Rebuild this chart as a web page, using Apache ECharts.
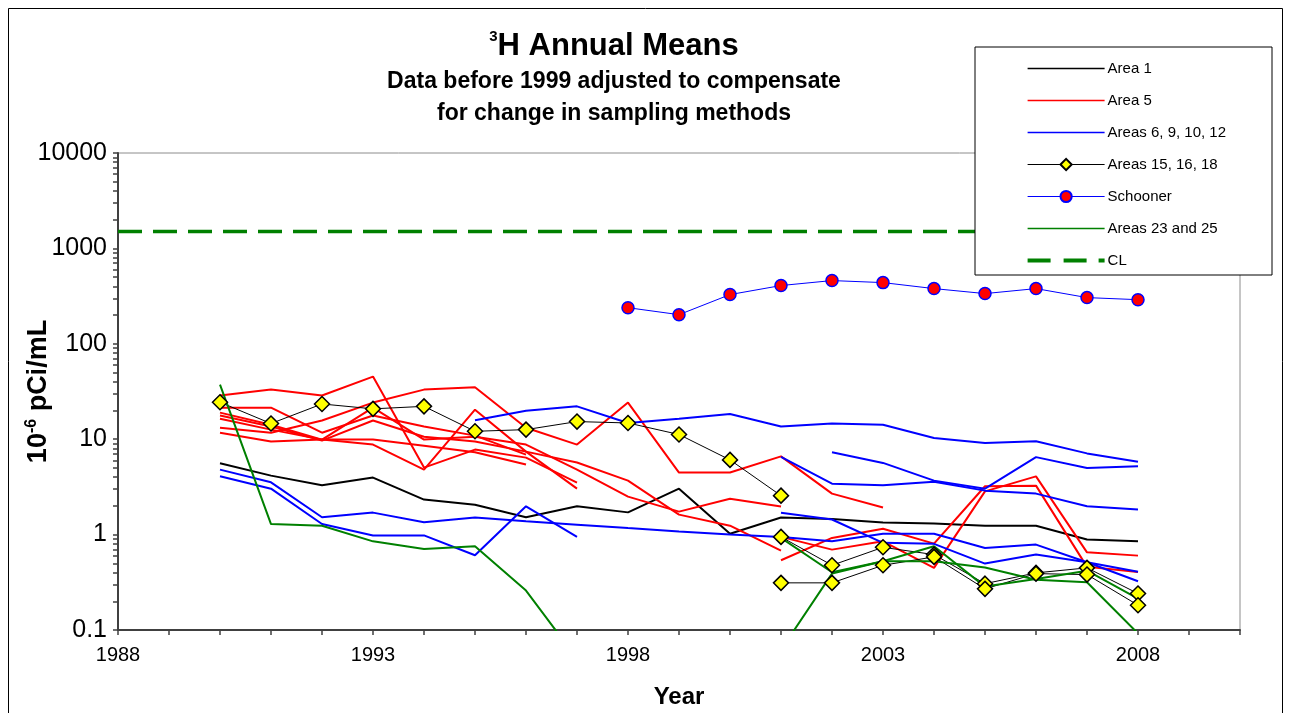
<!DOCTYPE html>
<html><head><meta charset="utf-8">
<script src="https://cdn.jsdelivr.net/npm/echarts@6/dist/echarts.min.js"></script>
<style>html,body{margin:0;padding:0;background:#fff}#c{width:1291px;height:713px}</style>
</head><body><div id="c"></div><script>
const years = [1990,1991,1992,1993,1994,1995,1996,1997,1998,1999,2000,2001,2002,2003,2004,2005,2006,2007,2008];
const _ = null;
// Area 1
const area1 = [5.59,4.15,3.29,3.96,2.33,2.06,1.52,1.98,1.71,3.03,1.02,1.51,1.46,1.34,1.31,1.24,1.24,0.89,0.85];
// Area 5 stations
const area5a = [28.7,33.1,28.7,45.3,5.04,7.78,6.41,3.51,_,_,_,_,_,_,_,_,_,_,_];
const area5b = [19.0,14.2,9.9,8.78,4.8,20.4,7.41,3.03,_,_,_,_,_,_,_,_,_,_,_];
const area5c = [13.2,11.7,15.7,24.2,33.1,35.1,13.2,8.78,24.2,4.47,4.47,6.6,2.69,1.92,_,_,_,_,_];
const area5d = [17.7,13.6,9.67,15.7,10.6,9.44,7.41,5.69,3.68,1.62,1.24,0.68,_,_,_,_,_,_,_];
const area5e = [16.4,12.6,9.9,21.4,9.9,10.6,8.78,4.8,2.5,1.74,2.38,1.97,_,_,_,_,_,_,_];
const area5f = [21.4,21.4,11.7,17.7,13.6,10.9,6.9,_,_,_,_,_,_,_,_,_,_,_,_];
const area5g = [11.7,9.44,9.9,9.9,8.56,7.3,5.42,_,_,_,_,_,_,_,_,_,_,_,_];
const area5h = [_,_,_,_,_,_,_,_,_,_,_,0.538,0.923,1.15,0.805,3.21,3.26,0.459,0.406];
const area5i = [_,_,_,_,_,_,_,_,_,_,_,0.946,0.696,0.851,0.448,2.84,4.08,0.652,0.602];
// Areas 6, 9, 10, 12
const area6a = [_,_,_,_,_,15.8,19.9,22.1,14.8,16.4,18.4,13.6,14.6,14.2,10.3,9.1,9.5,7.1,5.8];
const area6b = [_,_,_,_,_,_,_,_,_,_,_,_,7.29,5.64,3.68,3.03,6.49,5.0,5.2];
const area6c = [_,_,_,_,_,_,_,_,_,_,_,6.52,3.42,3.29,3.59,2.89,2.69,1.98,1.83];
const area6d = [4.80,3.53,1.52,1.70,1.35,1.51,1.38,1.27,1.17,1.08,1.0,0.946,0.85,1.02,1.02,0.725,0.786,0.513,0.407];
const area6e = [4.08,3.03,1.29,0.98,0.98,0.607,1.98,0.946,_,_,_,_,_,_,_,_,_,_,_];
const area6f = [_,_,_,_,_,_,_,_,_,_,_,1.69,1.44,0.82,0.80,0.497,0.617,0.513,0.324];
// Areas 15, 16, 18
const area15a = [24.4,14.6,23.4,20.8,22.1,12.1,12.6,15.3,14.8,11.2,6.07,2.56,_,_,_,_,_,_,_];
const area15b = [_,_,_,_,_,_,_,_,_,_,_,0.946,0.477,0.736,0.617,0.306,0.397,0.448,0.241];
const area15c = [_,_,_,_,_,_,_,_,_,_,_,0.312,0.312,0.477,0.584,0.270,0.390,0.381,0.182];
// Schooner
const schooner = [_,_,_,_,_,_,_,_,239,202,328,408,460,438,379,336,379,305,290];
// Areas 23 and 25
const area23a = [37.3,1.29,1.24,0.85,0.708,0.754,0.259,0.05,_,_,_,_,_,_,_,_,_,_,_];
const area23b = [_,_,_,_,_,_,_,_,_,_,_,0.062,0.390,0.525,0.754,0.285,0.343,0.419,0.213];
const area23c = [_,_,_,_,_,_,_,_,_,_,_,0.923,0.403,0.525,0.525,0.451,0.337,0.316,0.092];
// CL
const clLevel = 1500;
const clYears = [1988, 2010];
// ticks
const yTickLabels = [0.1,1,10,100,1000,10000];
const xLabelYears = [1988,1993,1998,2003,2008];

const FONT = "'Liberation Sans', Arial, sans-serif";
const toData = arr => years.map((y,i)=>[y, arr[i]]);
const plain = (name, arr, color, w) => ({
  name, type:'line', data: toData(arr), symbol:'none', connectNulls:false,
  lineStyle:{color, width:w||2}, itemStyle:{color}, clip:true
});
const diamond = (arr) => ({
  name:'Areas 15, 16, 18', type:'line', data: toData(arr), symbol:'diamond', symbolSize:15,
  lineStyle:{color:'#000', width:1}, itemStyle:{color:'#FFFF00', borderColor:'#000', borderWidth:1.5}, clip:true
});
const series = [
  plain('Area 1', area1, '#000'),
  ...[area5a,area5b,area5c,area5d,area5e,area5f,area5g,area5h,area5i].map(a=>plain('Area 5', a, '#FF0000')),
  ...[area6a,area6b,area6c,area6d,area6e,area6f].map(a=>plain('Areas 6, 9, 10, 12', a, '#0000FF')),
  ...[area15a,area15b,area15c].map(diamond),
  { name:'Schooner', type:'line', data: toData(schooner), symbol:'circle', symbolSize:12,
    lineStyle:{color:'#0000FF', width:1}, itemStyle:{color:'#FF0000', borderColor:'#0000FF', borderWidth:1.5} },
  ...[area23a,area23b,area23c].map(a=>plain('Areas 23 and 25', a, '#008000')),
  { name:'CL', type:'line', data: clYears.map(y=>[y, clLevel]), symbol:'none',
    lineStyle:{color:'#008000', width:3.5, type:[24,11]}, itemStyle:{color:'#008000'} }
];
const minorTicks = [];
for (let i=0;i<yTickLabels.length;i++){ for(let k=1;k<10;k++){ const v=yTickLabels[i]*k; if(v<=10000) minorTicks.push(+v.toPrecision(3)); } }

// legend icons (77 x 14 box, tiny corner anchors keep the box size)
const ANCH = 'M0,0L0.01,0L0,0.01Z M77,14L76.99,14L77,13.99Z ';
const LINE_ICON = 'path://' + ANCH + 'M0,6.2L77,6.2L77,7.8L0,7.8Z';
const DASH_ICON = 'path://' + ANCH + 'M0,5L23,5L23,9L0,9Z M36,5L59,5L59,9L36,9Z M71,5L77,5L77,9L71,9Z';

const chart = echarts.init(document.getElementById('c'), null, {renderer:'canvas'});
chart.setOption({
  animation:false,
  backgroundColor:'#fff',
  textStyle:{fontFamily:FONT},
  title:[
    { text:'{s|3}{t|H Annual Means}', left:609, top:24, textAlign:'center',
      textStyle:{ rich:{ s:{fontSize:15, fontWeight:'bold', fontFamily:FONT, color:'#000', verticalAlign:'top', lineHeight:34},
                         t:{fontSize:31, fontWeight:'bold', fontFamily:FONT, color:'#000', lineHeight:34} } } },
    { text:'Data before 1999 adjusted to compensate\nfor change in sampling methods', left:609, top:61, textAlign:'center',
      textStyle:{fontSize:23, fontWeight:'bold', fontFamily:FONT, color:'#000', lineHeight:32} }
  ],
  grid:{ left:118, top:153, right:51, bottom:83, show:true, borderColor:'#8c8c8c', borderWidth:1,
    backgroundColor:'transparent', containLabel:false, outerBoundsMode:'none' },
  legend:{
    data:[
      {name:'Area 1', icon:LINE_ICON},
      {name:'Area 5', icon:LINE_ICON},
      {name:'Areas 6, 9, 10, 12', icon:LINE_ICON},
      {name:'Areas 15, 16, 18', lineStyle:{width:1.2}},
      {name:'Schooner', lineStyle:{width:1.2}},
      {name:'Areas 23 and 25', icon:LINE_ICON},
      {name:'CL', icon:DASH_ICON}
    ],
    orient:'vertical', left:975, top:47, selectedMode:false,
    backgroundColor:'#fff', borderColor:'#000', borderWidth:1,
    padding:[14,46,7,52], itemWidth:77, itemHeight:14, itemGap:17,
    textStyle:{fontSize:15, fontFamily:FONT, color:'#000', padding:[0,0,0,-2]}
  },
  xAxis:{ type:'value', min:1988, max:2010, interval:1,
    name:'Year', nameLocation:'middle', nameGap:55, nameMoveOverlap:false,
    nameTextStyle:{fontSize:24, fontWeight:'bold', color:'#000', fontFamily:FONT},
    axisLine:{lineStyle:{color:'#404040', width:2}},
    axisTick:{length:5, lineStyle:{color:'#404040', width:1.5}},
    axisLabel:{ fontSize:20, color:'#000', margin:15, fontFamily:FONT,
      formatter: v => xLabelYears.includes(v) ? String(v) : '' },
    splitLine:{show:false}
  },
  yAxis:{ type:'log', logBase:10, min:0.1, max:10000,
    name:'{a|10}{b|-6}{a| pCi/mL}', nameLocation:'middle', nameGap:64, nameRotate:90, nameMoveOverlap:false,
    nameTextStyle:{ rich:{ a:{fontSize:27, fontWeight:'bold', color:'#000', fontFamily:FONT, lineHeight:30},
                           b:{fontSize:16, fontWeight:'bold', color:'#000', fontFamily:FONT, verticalAlign:'top', lineHeight:30} } },
    axisLine:{show:true, lineStyle:{color:'#404040', width:2}},
    axisTick:{show:true, length:5, customValues:minorTicks, lineStyle:{color:'#404040', width:1.5}},
    axisLabel:{ fontSize:25, color:'#000', margin:11, fontFamily:FONT, customValues:yTickLabels,
      formatter: v => String(+(+v).toPrecision(3)) },
    splitLine:{show:false}, minorTick:{show:false}
  },
  graphic:[
    { type:'rect', shape:{x:8.5, y:8.5, width:1274, height:720}, style:{fill:'none', stroke:'#000', lineWidth:1}, silent:true, z:-1 }
  ],
  series
});
</script></body></html>
